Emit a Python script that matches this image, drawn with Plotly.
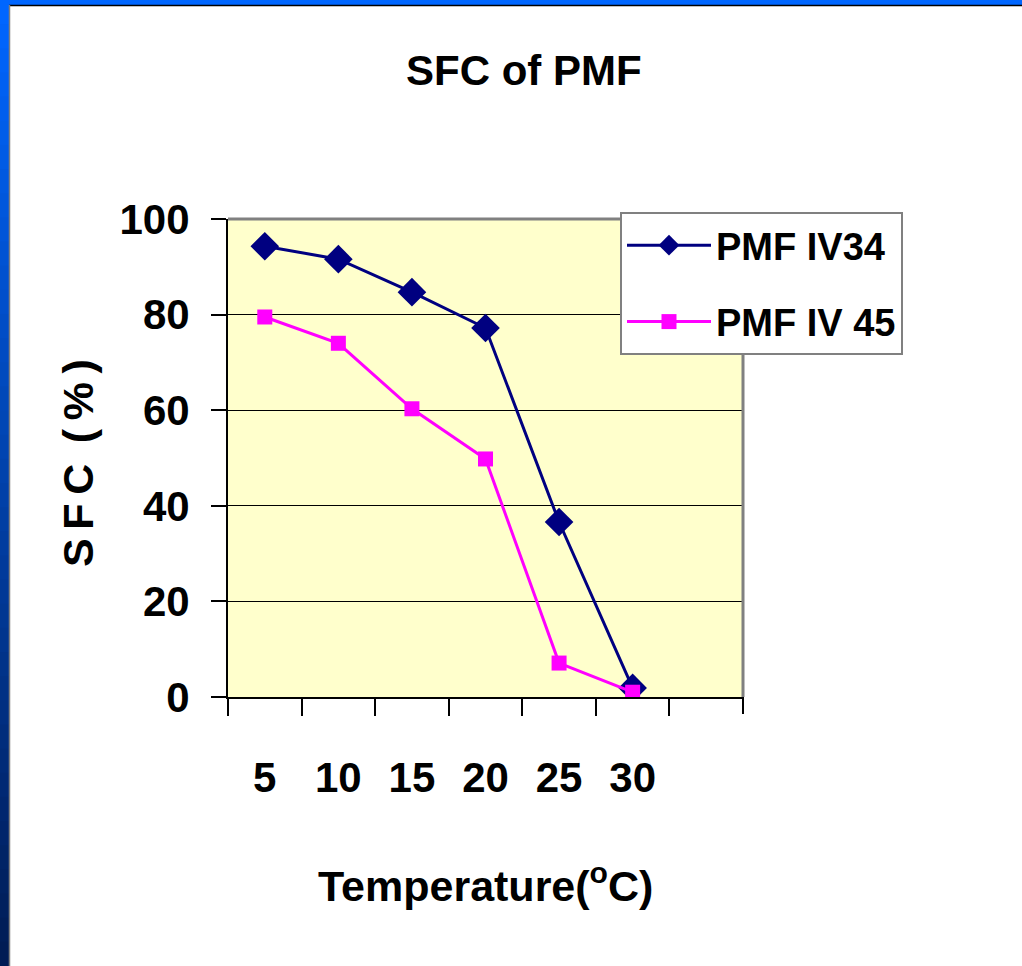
import plotly.graph_objects as go

# ---- data ----
temperatures = ["5", "10", "15", "20", "25", "30"]
extra_category = ["35"]
sfc_iv34 = [94.3, 91.6, 84.7, 77.2, 36.6, 1.9]
sfc_iv45 = [79.5, 74.0, 60.3, 49.8, 7.1, 1.0]
series_names = ["PMF IV34", "PMF IV 45"]
y_ticks = [0, 20, 40, 60, 80, 100]

W, H = 1022, 966
L, R, T, B = 228, 743, 219, 697
FONT = "Liberation Sans Narrow, Arial Narrow, Liberation Sans, Arial, sans-serif"


def px(xp):
    return (xp - L) / (R - L)


def py(yp):
    return (B - yp) / (B - T)


fig = go.Figure()
fig.add_trace(go.Scatter(
    x=temperatures, y=sfc_iv34, name=series_names[0], mode="lines+markers",
    line=dict(color="#000080", width=3),
    marker=dict(symbol="diamond", size=22, color="#000080"),
    legendgroup="a",
))
fig.add_trace(go.Scatter(
    x=temperatures, y=sfc_iv45, name=series_names[1], mode="lines+markers",
    line=dict(color="#FF00FF", width=3),
    marker=dict(symbol="square", size=15, color="#FF00FF"),
    legendgroup="b",
))

shapes = []
# left gradient strip
n = 40
c0 = (0x00, 0x66, 0xFF)
c1 = (0x00, 0x1C, 0x55)
for i in range(n):
    t = i / (n - 1)
    col = "rgb(%d,%d,%d)" % tuple(round(a + (b - a) * t) for a, b in zip(c0, c1))
    shapes.append(dict(type="rect", xref="paper", yref="paper",
                       x0=px(0), x1=px(9), y0=py(i * H / n), y1=py((i + 1) * H / n + 1),
                       fillcolor=col, line=dict(width=0), layer="below"))
# top strip
shapes.append(dict(type="rect", xref="paper", yref="paper",
                   x0=px(0), x1=px(W), y0=py(0), y1=py(5),
                   fillcolor="#0066FF", line=dict(width=0), layer="below"))
# dark edge lines of the frame
shapes.append(dict(type="line", xref="paper", yref="paper",
                   x0=px(9), x1=px(W), y0=py(5.5), y1=py(5.5),
                   line=dict(color="#000000", width=1.5), layer="below"))
shapes.append(dict(type="line", xref="paper", yref="paper",
                   x0=px(9.5), x1=px(9.5), y0=py(5), y1=py(H),
                   line=dict(color="#808080", width=1.5), layer="below"))
# plot area gray border (top, right)
shapes.append(dict(type="line", xref="paper", yref="paper",
                   x0=0, x1=1, y0=1, y1=1,
                   line=dict(color="#808080", width=3), layer="above"))
shapes.append(dict(type="line", xref="paper", yref="paper",
                   x0=1, x1=1, y0=0, y1=1,
                   line=dict(color="#808080", width=3), layer="above"))
# last category boundary tick on the x axis
shapes.append(dict(type="line", xref="paper", yref="paper",
                   x0=1, x1=1, y0=0, y1=py(B + 17),
                   line=dict(color="black", width=2), layer="above"))

annotations = [
    dict(text="<b>SFC of PMF</b>", xref="paper", yref="paper",
         x=px(524), y=py(71), xanchor="center", yanchor="middle",
         showarrow=False, font=dict(size=42, color="black", family=FONT)),
    dict(text="<b>Temperature(<sup>o</sup>C)</b>", xref="paper", yref="paper",
         x=px(485), y=py(883), xanchor="center", yanchor="middle",
         showarrow=False, font=dict(size=43, color="black", family=FONT)),
    dict(text="<b>S\u2009F\u2009C\u2009 (\u2009%\u2009)</b>", xref="paper", yref="paper",
         x=px(78), y=py(463), xanchor="center", yanchor="middle", textangle=-90,
         showarrow=False, font=dict(size=43, color="black", family=FONT)),
]

fig.update_layout(
    width=W, height=H,
    template="none",
    margin=dict(l=L, r=W - R, t=T, b=H - B, autoexpand=False),
    paper_bgcolor="white",
    plot_bgcolor="#FFFFCC",
    font=dict(family=FONT, color="black"),
    showlegend=True,
    legend=dict(
        x=px(620), y=py(212), xanchor="left", yanchor="top",
        bgcolor="white", bordercolor="#808080", borderwidth=2,
        font=dict(size=38, family=FONT, color="black", weight="bold"),
        itemwidth=84, traceorder="grouped", tracegroupgap=24,
    ),
    xaxis=dict(
        type="category", categoryorder="array",
        categoryarray=temperatures + extra_category,
        tickvals=temperatures, ticktext=temperatures,
        range=[-0.5, 6.5], tickson="boundaries",
        ticks="outside", ticklen=17, tickwidth=2, tickcolor="black",
        showline=True, linecolor="black", linewidth=2,
        showgrid=False, zeroline=False, automargin=False,
        tickfont=dict(size=42, family=FONT, color="black", weight="bold"),
        ticklabelstandoff=43,
    ),
    yaxis=dict(
        range=[0, 100], tickvals=y_ticks,
        ticks="outside", ticklen=15, tickwidth=1.5, tickcolor="black",
        showline=True, linecolor="black", linewidth=2,
        showgrid=True, gridcolor="black", gridwidth=1,
        zeroline=False, automargin=False,
        tickfont=dict(size=42, family=FONT, color="black", weight="bold"),
        ticklabelstandoff=13,
    ),
    shapes=shapes,
    annotations=annotations,
)

fig.write_html("out.html")
